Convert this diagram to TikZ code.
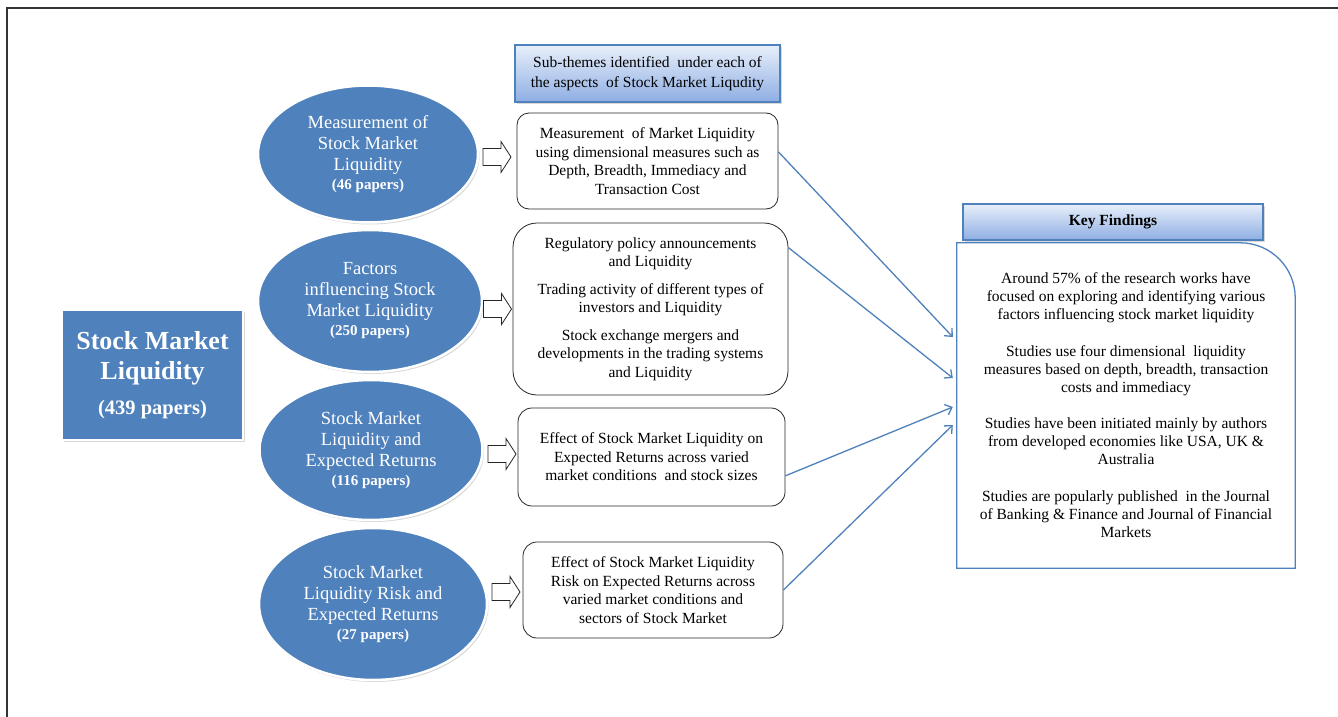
\documentclass[tikz,border=0pt]{standalone}
\usepackage{fontspec}
\setmainfont{Liberation Serif}
\usetikzlibrary{shapes.geometric,shadows,arrows.meta,calc}
\definecolor{ofblue}{HTML}{4F81BD}
\definecolor{hdtop}{HTML}{E8EFFA}
\definecolor{hdbot}{HTML}{8EAEE3}
\newcommand\fs[2]{\fontsize{#1}{#2}\selectfont}
\begin{document}
\begin{tikzpicture}[x=1pt,y=-1pt,
  shad/.style={drop shadow={shadow xshift=1.5pt,shadow yshift=-2pt,opacity=0.3}},
  mainbox/.style={rectangle,fill=ofblue,draw=white,line width=2pt,minimum width=181pt,minimum height=130pt,inner sep=0pt,text=white,align=center,font=\fs{26}{30}\bfseries,shad},
  topic/.style={ellipse,fill=ofblue,draw=white,line width=2.5pt,inner sep=0pt,text=white,align=center,font=\fs{18.5}{21},shad},
  subbox/.style={rectangle,draw=black!85,line width=0.8pt,fill=white,align=center,inner sep=0pt,font=\fs{15.5}{18.5}},
  header/.style={rectangle,draw=ofblue,line width=1.2pt,top color=hdtop,bottom color=hdbot,align=center,inner sep=0pt,shad},
  conn/.style={draw=ofblue,line width=1.3pt,-{Straight Barb[length=6pt,width=11pt]}},
  blockarrow/.pic={\draw[black!85,line width=0.8pt,fill=white,line join=miter]
     (-14,-8.5) -- (4,-8.5) -- (4,-15.5) -- (14,0) -- (4,15.5) -- (4,8.5) -- (-14,8.5) -- cycle;}
]
\useasboundingbox (0,0) rectangle (1338,717);
\fill[white] (0,0) rectangle (1338,717);
% frame
\draw[black!80,line width=1.5pt] (7,717) -- (7,8) -- (1338,8);

% root
\node[mainbox] (root) at (152.5,375) {Stock Market\\Liquidity\\[5pt]{\fs{20.5}{24}\bfseries (439 papers)}};

% topics
\node[topic,minimum width=220pt,minimum height=137pt] (t1) at (368,154)
  {Measurement of\\Stock Market\\Liquidity\\[-2pt]{\fs{15}{18}\bfseries (46 papers)}};
\node[topic,minimum width=224pt,minimum height=142pt] (t2) at (370,301)
  {Factors\\influencing Stock\\Market Liquidity\\[-2pt]{\fs{15}{18}\bfseries (250 papers)}};
\node[topic,minimum width=223pt,minimum height=140pt] (t3) at (371,450)
  {Stock Market\\Liquidity and\\Expected Returns\\[-2pt]{\fs{15}{18}\bfseries (116 papers)}};
\node[topic,minimum width=228pt,minimum height=152pt] (t4) at (373,604)
  {Stock Market\\Liquidity Risk and\\Expected Returns\\[-2pt]{\fs{15}{18}\bfseries (27 papers)}};

% block arrows
\pic at (497,157) {blockarrow};
\pic at (497.5,309) {blockarrow};
\pic at (502,454) {blockarrow};
\pic at (506,592) {blockarrow};

% sub-theme header
\node[header,minimum width=265pt,minimum height=57pt,font=\fs{15.5}{20}] (sub) at (647.5,73.5)
  {Sub-themes identified\ \ under each of\\the aspects\ \ of Stock Market Liqudity};

% sub boxes
\node[subbox,rounded corners=12pt,minimum width=261pt,minimum height=96pt] (b1) at (647.5,161)
  {Measurement\ \ of Market Liquidity\\using dimensional measures such as\\Depth, Breadth, Immediacy and\\Transaction Cost};
\node[subbox,rounded corners=24pt,minimum width=275pt,minimum height=172pt] (b2) at (650.5,309)
  {Regulatory policy announcements\\and Liquidity\\[9pt]Trading activity of different types of\\investors and Liquidity\\[9pt]Stock exchange mergers and\\developments in the trading systems\\and Liquidity};
\node[subbox,rounded corners=14pt,minimum width=267pt,minimum height=98pt] (b3) at (651.5,457)
  {Effect of Stock Market Liquidity on\\Expected Returns across varied\\market conditions\ \ and stock sizes};
\node[subbox,rounded corners=14pt,minimum width=260pt,minimum height=96pt] (b4) at (653,590)
  {Effect of Stock Market Liquidity\\Risk on Expected Returns across\\varied market conditions and\\sectors of Stock Market};

% key findings
\node[header,minimum width=300pt,minimum height=36pt,font=\fs{15.5}{18}\bfseries] (kfh) at (1113,222) {Key Findings};
\node[minimum width=338pt,minimum height=325pt,inner sep=0pt,align=center,font=\fs{15.5}{18}] (kf) at (1126,405.5)
  {Around 57\% of the research works have\\focused on exploring and identifying various\\factors influencing stock market liquidity\\[19pt]Studies use four dimensional\ \ liquidity\\measures based on depth, breadth, transaction\\costs and immediacy\\[18pt]Studies have been initiated mainly by authors\\from developed economies like USA, UK \&\\Australia\\[19pt]Studies are popularly published\ \ in the Journal\\of Banking \& Finance and Journal of Financial\\Markets};
\draw[ofblue,line width=1.3pt] (kf.south west) -- (kf.north west) -- ([xshift=-55pt]kf.north east)
  .. controls ([xshift=-24.6pt]kf.north east) and ([yshift=-24.6pt]kf.north east) .. ([yshift=-55pt]kf.north east)
  -- (kf.south east) -- cycle;

% connectors
\draw[conn] (b1.4) -- ([xshift=-4pt,yshift=68.5pt]kf.west);
\draw[conn] (b2.24) -- ([xshift=-4pt,yshift=27.5pt]kf.west);
\draw[conn] (b3.-8) -- ([xshift=-4pt,yshift=-1.5pt]kf.west);
\draw[conn] (b4.east) -- ([xshift=-4pt,yshift=-19.5pt]kf.west);
\end{tikzpicture}
\end{document}
